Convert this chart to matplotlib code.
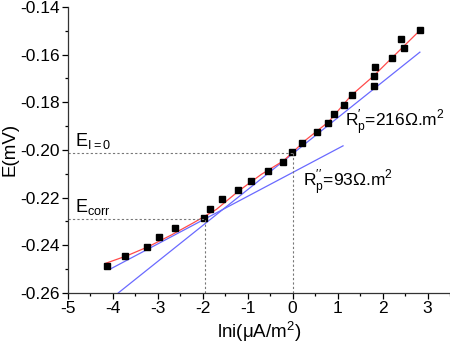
import matplotlib
matplotlib.use("Agg")
import matplotlib.pyplot as plt

plt.rcParams['font.family'] = ['Liberation Sans', 'DejaVu Sans']
plt.rcParams['mathtext.fontset'] = 'custom'
plt.rcParams['mathtext.rm'] = 'Liberation Sans'
plt.rcParams['axes.unicode_minus'] = False

# measured points: ln i vs E
lni = [-4.14, -3.72, -3.24, -2.98, -2.62, -1.98, -1.85, -1.57, -1.22, -0.93,
       -0.56, -0.22, -0.01, 0.21, 0.55, 0.78, 0.92, 1.14, 1.31, 1.81, 1.80,
       1.84, 2.20, 2.47, 2.42, 2.83]
E = [-0.2485, -0.2445, -0.2406, -0.2364, -0.2326, -0.2287, -0.2246, -0.2207,
     -0.2168, -0.2129, -0.2088, -0.2049, -0.2010, -0.1969, -0.1927, -0.1888,
     -0.1849, -0.1810, -0.1769, -0.1731, -0.1691, -0.1652, -0.1613, -0.1574,
     -0.1533, -0.1495]

# smooth fit (red)
fit_x = [-4.15, -3.7, -3.2, -2.7, -2.2, -1.7, -1.2, -0.7, -0.2, 0.3, 0.8,
         1.3, 1.8, 2.3, 2.85]
fit_y = [-0.2475, -0.2445, -0.2405, -0.2357, -0.2305, -0.2250, -0.2172,
         -0.2103, -0.2045, -0.1957, -0.1882, -0.1772, -0.1690, -0.1597,
         -0.1495]

# tangent lines (blue)
tan1_x = [-3.88, 2.83]
tan1_y = [-0.2600, -0.1590]
tan2_x = [-4.05, 1.12]
tan2_y = [-0.2499, -0.1983]

E_i0 = -0.2015
E_corr = -0.2290
lni_corr = -1.95

fig = plt.figure(figsize=(4.5, 3.43), dpi=100)
ax = fig.add_axes([0.151, 0.146, 0.849, 0.834])

ax.plot(tan1_x, tan1_y, color="#6a6aff", lw=0.9)
ax.plot(tan2_x, tan2_y, color="#6a6aff", lw=0.9)
ax.plot(fit_x, fit_y, color="#ff4a4a", lw=0.9)
ax.plot(lni, E, "s", color="black", ms=5)

dot = dict(color="#777777", lw=0.8, ls=(0, (2, 2)))
ax.plot([-5, 0], [E_i0, E_i0], **dot)
ax.plot([0, 0], [-0.26, E_i0], **dot)
ax.plot([-5, lni_corr], [E_corr, E_corr], **dot)
ax.plot([lni_corr, lni_corr], [-0.26, E_corr], **dot)

ax.text(-4.84, E_i0 + 0.0010, r"E$_{\mathregular{I=0}}$", fontsize=13, va="bottom")
ax.text(-4.84, E_corr + 0.0010, r"E$_{\mathregular{corr}}$", fontsize=13, va="bottom")
ax.text(1.16, -0.1885, r"R$_{\mathregular{p}}^{\prime}$=216Ω.m$^{\mathregular{2}}$",
        fontsize=12.5, va="center")
ax.text(0.24, -0.2135, r"R$_{\mathregular{p}}^{\prime\prime}$=93Ω.m$^{\mathregular{2}}$",
        fontsize=12.5, va="center")

ax.set_xlim(-5, 3.5)
ax.set_ylim(-0.26, -0.14)
ax.set_xticks([-5, -4, -3, -2, -1, 0, 1, 2, 3])
ax.set_yticks([-0.26, -0.24, -0.22, -0.20, -0.18, -0.16, -0.14])
ax.set_yticklabels(["-0.26", "-0.24", "-0.22", "-0.20", "-0.18", "-0.16", "-0.14"])
ax.set_xticks([-4.5, -3.5, -2.5, -1.5, -0.5, 0.5, 1.5, 2.5, 3.5], minor=True)
ax.set_yticks([-0.25, -0.23, -0.21, -0.19, -0.17, -0.15], minor=True)
ax.tick_params(which="major", direction="out", length=4, width=0.9, labelsize=12.5, pad=2)
ax.tick_params(which="minor", direction="out", length=2.5, width=0.9)

for s in ["top", "right"]:
    ax.spines[s].set_visible(False)
for s in ["left", "bottom"]:
    ax.spines[s].set_linewidth(0.9)
    ax.spines[s].set_color("#333333")

ax.set_xlabel("lni(μA/m$^{\\mathregular{2}}$)", fontsize=13.5, labelpad=2)
ax.set_ylabel("E(mV)", fontsize=13.5, labelpad=1)

fig.savefig("out.png", dpi=100)
